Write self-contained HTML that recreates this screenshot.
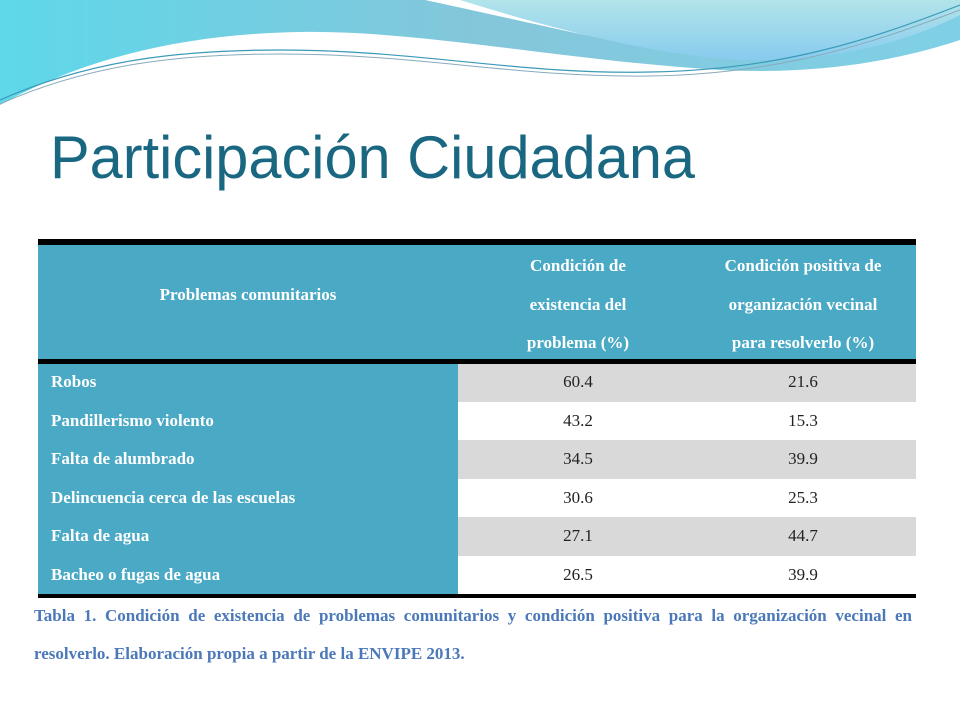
<!DOCTYPE html>
<html><head><meta charset="utf-8"><style>
body{margin:0;width:960px;height:720px;overflow:hidden;background:#fff;font-family:"Liberation Serif",serif;position:relative}
.abs{position:absolute}
table{border-collapse:collapse}
.cell{position:absolute;font-weight:bold;font-size:17px}
</style></head><body>
<svg class="abs" style="left:0;top:0" width="960" height="120">
<defs>
<linearGradient id="g1" x1="0" y1="0" x2="1" y2="0"><stop offset="0" stop-color="#5ed8ea"/><stop offset="0.5" stop-color="#84c6da"/><stop offset="1" stop-color="#7fd0e6"/></linearGradient>
<linearGradient id="g2" x1="0" y1="0" x2="0" y2="1"><stop offset="0" stop-color="#b2e4ea"/><stop offset="1" stop-color="#88cbee"/></linearGradient>
</defs>
<path d="M0,0 H960 V40 C900,60 820,75 720,70 C560,60 420,30 300,32 C180,34 80,60 0,105 Z" fill="url(#g1)"/>
<path d="M425,0 H960 V10 C900,40 820,65 720,58 C640,50 520,20 425,0 Z" fill="#fff"/>
<path d="M460,0 H960 V15 C900,45 830,62 740,60 C650,55 540,25 460,0 Z" fill="url(#g2)"/>
<path d="M0,100 C90,60 180,50 280,50 C420,50 520,75 650,72 C780,70 870,40 960,5" fill="none" stroke="#3a9ab8" stroke-width="1.2"/>
<path d="M0,104 C90,64 180,54 280,54 C420,54 520,78 650,76 C780,74 870,44 960,10" fill="none" stroke="#8ab" stroke-width="1"/>
</svg>
<svg class="abs" style="left:0;top:110px" width="720" height="90">
<text x="50" y="68" font-family="Liberation Sans, sans-serif" font-size="60" fill="#1a6782" textLength="645" lengthAdjust="spacingAndGlyphs">Participación Ciudadana</text>
</svg>

<div class="abs" style="left:38px;top:239px;width:878px;height:359px">
<div class="abs" style="left:0;top:0;width:878px;height:6px;background:#000"></div>
<div class="abs" style="left:0;top:6px;width:878px;height:114px;background:#4aa9c5"></div>
<div class="abs" style="left:0;top:120px;width:878px;height:5px;background:#000"></div>
<div class="abs" style="left:0;top:125px;width:420px;height:230px;background:#4aa9c5"></div>
<div class="abs" style="left:420px;top:125px;width:458px;height:38px;background:#d9d9d9"></div>
<div class="abs" style="left:420px;top:201px;width:458px;height:39px;background:#d9d9d9"></div>
<div class="abs" style="left:420px;top:278px;width:458px;height:39px;background:#d9d9d9"></div>
<div class="abs" style="left:0;top:355px;width:878px;height:4px;background:#000"></div>

<div class="cell" style="left:0;top:46px;width:420px;text-align:center;color:#fff">Problemas comunitarios</div>
<div class="cell" style="left:440px;top:8px;width:200px;text-align:center;color:#fff;line-height:38.5px">Condición de<br>existencia del<br>problema (%)</div>
<div class="cell" style="left:655px;top:8px;width:220px;text-align:center;color:#fff;line-height:38.5px">Condición positiva de<br>organización vecinal<br>para resolverlo (%)</div>

<div id="rows"></div>
</div>

<div class="abs" style="left:34px;top:597px;width:878px;font-weight:bold;font-size:17px;color:#4a78b8;line-height:38px;text-align:justify;text-align-last:left">Tabla 1. Condición de existencia de problemas comunitarios y condición positiva para la organización vecinal en resolverlo. Elaboración propia a partir de la ENVIPE 2013.</div>

<script>
const problems=["Robos","Pandillerismo violento","Falta de alumbrado","Delincuencia cerca de las escuelas","Falta de agua","Bacheo o fugas de agua"];
const existence=["60.4","43.2","34.5","30.6","27.1","26.5"];
const organization=["21.6","15.3","39.9","25.3","44.7","39.9"];
const rows=document.getElementById('rows');
problems.forEach((p,i)=>{
  const top=125+i*38.5+8;
  const a=document.createElement('div');a.className='cell';
  
  
  a.style.cssText=`left:13px;top:${top}px;color:#fff`;a.textContent=p;rows.appendChild(a);
  const b=document.createElement('div');b.className='cell';
  
  
  b.style.cssText=`left:440px;top:${top}px;width:200px;text-align:center;font-weight:normal;color:#222`;b.textContent=existence[i];rows.appendChild(b);
  const c=document.createElement('div');c.className='cell';
  
  
  c.style.cssText=`left:655px;top:${top}px;width:220px;text-align:center;font-weight:normal;color:#222`;c.textContent=organization[i];rows.appendChild(c);
});
</script>
</body></html>
